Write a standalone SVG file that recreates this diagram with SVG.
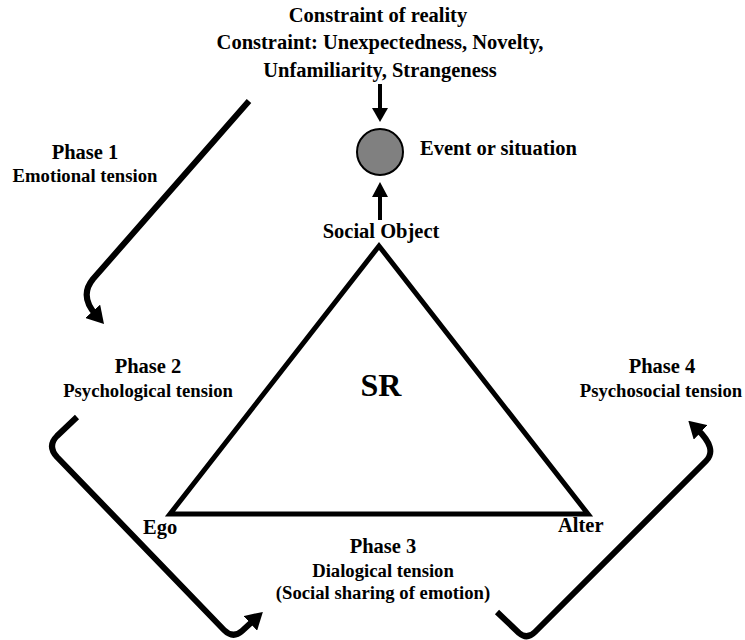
<svg xmlns="http://www.w3.org/2000/svg" width="745" height="640" viewBox="0 0 745 640">
<style>
  text { font-family: "Liberation Serif", "Times New Roman", serif; font-weight: bold; fill: #000; }
  .h { font-size: 20.5px; }
  .s { font-size: 18.7px; }
  .c { text-anchor: middle; }
  .phase { fill: none; stroke: #000; stroke-width: 6; stroke-linejoin: round; }
</style>
<defs>
  <marker id="ah" markerUnits="userSpaceOnUse" markerWidth="17" markerHeight="20" viewBox="0 0 17 20" refX="5" refY="10" orient="auto">
    <path d="M0,0 L17,10 L0,20 z" fill="#000"/>
  </marker>
</defs>
<rect width="745" height="640" fill="#fff"/>

<g id="constraint">
  <text class="h c" x="378" y="22">Constraint of reality</text>
  <text class="h c" x="380" y="49">Constraint: Unexpectedness, Novelty,</text>
  <text class="h c" x="380" y="77">Unfamiliarity, Strangeness</text>
</g>

<g id="event">
  <circle cx="380" cy="152" r="23" fill="#808080" stroke="#000" stroke-width="2"/>
  <text class="h" x="420" y="155">Event or situation</text>
</g>

<g id="triangle">
  <polygon points="379,246 588,514 170,514" fill="none" stroke="#000" stroke-width="5" stroke-linejoin="miter"/>
  <text class="h c" x="381" y="238">Social Object</text>
  <text x="381" y="396" style="font-size:32px" class="c">SR</text>
  <text class="h" x="143" y="534">Ego</text>
  <text class="h" x="558" y="532">Alter</text>
</g>

<g id="phase1">
  <text class="h c" x="85" y="159">Phase 1</text>
  <text class="s c" x="85" y="182">Emotional tension</text>
</g>
<g id="phase2">
  <text class="h c" x="148" y="373">Phase 2</text>
  <text class="s c" x="148" y="397">Psychological tension</text>
</g>
<g id="phase3">
  <text class="h c" x="383" y="553">Phase 3</text>
  <text class="s c" x="383" y="577">Dialogical tension</text>
  <text class="s c" x="383" y="599">(Social sharing of emotion)</text>
</g>
<g id="phase4">
  <text class="h c" x="662" y="373">Phase 4</text>
  <text class="s c" x="661" y="397">Psychosocial tension</text>
</g>

<g id="connectors">
  <line x1="380" y1="84" x2="380" y2="110" stroke="#000" stroke-width="4"/>
  <polygon points="372,108 388,108 380,122" fill="#000"/>
  <line x1="380" y1="220" x2="380" y2="195" stroke="#000" stroke-width="4"/>
  <polygon points="372,197 388,197 380,182" fill="#000"/>
  <path class="phase" d="M249,101 L93,279 Q79,296 96,315" marker-end="url(#ah)"/>
  <path class="phase" d="M77,417 L57,436 Q47,446 57,457 L224,630 Q233,639 242,631 L254,620" marker-end="url(#ah)"/>
  <path class="phase" d="M497,612 L519,633 Q527,640 535,632 L706,461 Q718,449 697,429" marker-end="url(#ah)"/>
</g>
</svg>
